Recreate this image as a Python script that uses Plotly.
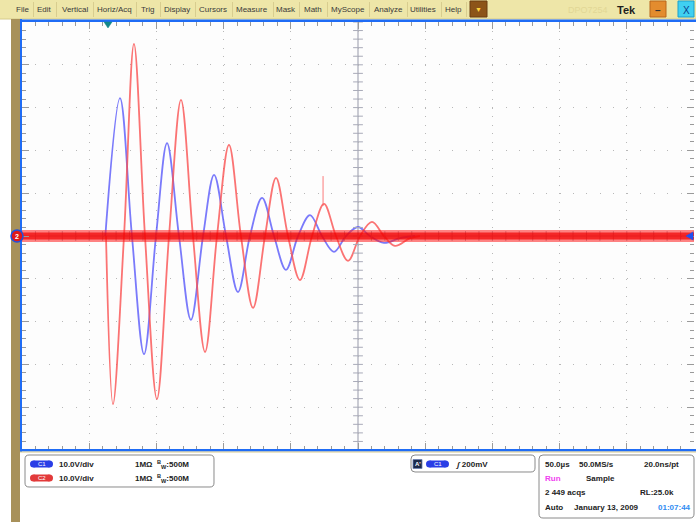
import numpy as np
import plotly.graph_objects as go

W, H = 696, 522

# Horizontal: 10 div x 50 us (record time in us), vertical: 10 div x 10 V
t_range = [0, 500]
v_range = [-50, 50]
trigger_t = 64.0

# Channel 1 (blue) ringing: peaks, troughs and zero crossings
c1_t = [62.0, 72.9, 81.8, 90.8, 99.7, 107.9, 116.8, 125.7, 134.7, 142.9, 151.8, 160.7, 169.6,
        178.6, 187.5, 196.4, 205.4, 214.3, 223.2, 232.1, 241.1, 250.0, 258.9, 269.3, 281.3, 292.4]
c1_v = [0, 32.2, 0, -27.6, 0, 21.7, 0, -19.6, 0, 14.3, 0, -13.1, 0,
        8.9, 0, -7.9, 0, 4.9, 0, -3.7, 0, 2.1, 0, -1.6, -0.5, 0]

# Channel 2 (red) ringing
c2_t = [62.5, 67.7, 75.9, 83.3, 91.5, 100.4, 109.4, 118.3, 127.2, 136.2, 145.1, 154.0, 162.9, 171.9,
        180.8, 189.0, 197.9, 206.8, 215.8, 224.7, 233.6, 242.6, 251.5, 260.4, 269.3, 277.5, 288.7, 296.1]
c2_v = [0, -39.3, 0, 44.9, 0, -38.1, 0, 31.8, 0, -27.1, 0, 21.3, 0, -16.8,
        0, 13.6, 0, -10.3, 0, 7.5, 0, -5.8, 0, 3.3, 0, -2.3, -0.5, 0]

# Glitch on channel 2
c2_spike_t = [224.0, 224.0]
c2_spike_v = [7.0, 14.0]

# Persisted flat acquisitions (noise band on the reference level)
base_t = [0, 500]
base_v = [0, 0]

menu_items = ["File", "Edit", "Vertical", "Horiz/Acq", "Trig", "Display", "Cursors",
              "Measure", "Mask", "Math", "MyScope", "Analyze", "Utilities", "Help"]
menu_x = [22, 44, 75, 114, 147, 177, 213, 252, 286, 313, 348, 388, 423, 453]
menu_sep = [33, 56, 93, 136, 160, 195, 232, 273, 299, 327, 369, 407, 441, 466]

FONT = "Liberation Sans, Arial, sans-serif"


def px(x):
    return x / W


def py(y):
    return 1 - y / H


shapes = []
annotations = []


def rect(x0, y0, x1, y1, fill, line_color=None, lw=0, layer="above"):
    shapes.append(dict(type="rect", xref="paper", yref="paper",
                       x0=px(x0), x1=px(x1), y0=py(y1), y1=py(y0),
                       fillcolor=fill, line=dict(color=line_color or fill, width=lw),
                       layer=layer))


def circle(x0, y0, x1, y1, fill, line_color=None, lw=0):
    shapes.append(dict(type="circle", xref="paper", yref="paper",
                       x0=px(x0), x1=px(x1), y0=py(y1), y1=py(y0),
                       fillcolor=fill, line=dict(color=line_color or fill, width=lw),
                       layer="above"))


def rrect(x0, y0, x1, y1, r, line_color="#8a8a8a", lw=1, fill="rgba(0,0,0,0)"):
    def p(x, y):
        return f"{px(x):.5f},{py(y):.5f}"
    path = (f"M {p(x0 + r, y0)} L {p(x1 - r, y0)} Q {p(x1, y0)} {p(x1, y0 + r)} "
            f"L {p(x1, y1 - r)} Q {p(x1, y1)} {p(x1 - r, y1)} L {p(x0 + r, y1)} "
            f"Q {p(x0, y1)} {p(x0, y1 - r)} L {p(x0, y0 + r)} Q {p(x0, y0)} {p(x0 + r, y0)} Z")
    shapes.append(dict(type="path", xref="paper", yref="paper", path=path,
                       fillcolor=fill, line=dict(color=line_color, width=lw), layer="above"))


def text(x, y, s, size=8, color="#222222", bold=False, anchor="left", family=FONT):
    if bold:
        s = f"<b>{s}</b>"
    annotations.append(dict(x=px(x), y=py(y), xref="paper", yref="paper", text=s,
                            showarrow=False, xanchor=anchor, yanchor="middle",
                            font=dict(family=family, size=size, color=color)))


def pill(x0, x1, yc, h, fill, label):
    r = h / 2
    rect(x0 + r, yc - r, x1 - r, yc + r, fill)
    circle(x0, yc - r, x0 + h, yc + r, fill)
    circle(x1 - h, yc - r, x1, yc + r, fill)
    text((x0 + x1) / 2, yc, label, size=6, color="white", anchor="center")


# ---- Menu bar ----
rect(0, 0, W, 19, "#eee6a8")
rect(0, 18.5, W, 19.5, "#d6cc8c")
for sx in menu_sep:
    rect(sx, 2, sx + 0.8, 17, "#d2c78a")
for label, mx in zip(menu_items, menu_x):
    text(mx, 9.5, label, size=8, color="#3a3a3a", anchor="center")
rect(470, 1, 487, 17, "#8c5418", "#6a3c10", 1)
text(478.5, 9.5, "▼", size=7, color="#ffd23c", anchor="center")
text(588, 10, "DPO7254", size=9, color="#e2d796", anchor="center")
text(626, 9.5, "Tek", size=11, color="#1e1e1e", bold=True, anchor="center")
rect(650, 1, 666, 17, "#e38c2e", "#b8671c", 1)
text(658, 10, "–", size=10, color="#333333", bold=True, anchor="center")
rect(678, 1, 694, 17, "#3fd0f2", "#1e9fc9", 1)
text(686, 10, "X", size=10, color="#0a3d8c", anchor="center")

# ---- Left strip and display frame ----
rect(11, 19, 20, H, "#a8915a")
rect(20, 19, 22, 452, "#1f6cf5")
rect(20, 19.5, W, 22, "#1f6cf5")
rect(20, 449, W, 451.5, "#1f6cf5")
rect(20, 451.5, W, 452.5, "#d9cb8e")

# center cross of the graticule
shapes.append(dict(type="line", xref="x", yref="paper", x0=250, x1=250,
                   y0=py(450), y1=py(22), line=dict(color="#a8aab8", width=1.2), layer="below"))
shapes.append(dict(type="line", xref="paper", yref="y", x0=px(22), x1=px(694),
                   y0=0, y1=0, line=dict(color="#a8aab8", width=1.2), layer="below"))

# trigger position marker
shapes.append(dict(type="path", xref="paper", yref="paper",
                   path=f"M {px(104):.5f},{py(22):.5f} L {px(112):.5f},{py(22):.5f} "
                        f"L {px(108):.5f},{py(28):.5f} Z",
                   fillcolor="#12868a", line=dict(color="#12868a", width=0.5), layer="above"))

# channel reference markers
circle(11, 230, 23, 242, "#e01818", "#1f4fe0", 1.5)
text(17, 236.5, "2", size=7, color="white", bold=True, anchor="center")
shapes.append(dict(type="path", xref="paper", yref="paper",
                   path=f"M {px(686):.5f},{py(236):.5f} L {px(693):.5f},{py(232):.5f} "
                        f"L {px(693):.5f},{py(240):.5f} Z",
                   fillcolor="#2050f0", line=dict(color="#2050f0", width=0.5), layer="above"))

# ---- Bottom info panels ----
rrect(25, 455, 214, 487, 4)
pill(30, 53, 464, 7, "#2a3ee6", "C1")
text(57, 464, "10.0V/div", bold=True)
text(133, 464, "1MΩ  <sup>B</sup><sub>W</sub>:500M", bold=True)
pill(30, 53, 478, 7, "#e23a3a", "C2")
text(57, 478, "10.0V/div", bold=True)
text(133, 478, "1MΩ  <sup>B</sup><sub>W</sub>:500M", bold=True)

rrect(411, 455, 535, 472, 4)
rect(413, 459.5, 422, 468.5, "#1c2a4a", "#6a7fb0", 0.8)
text(417.5, 464, "A'", size=6, color="white", bold=True, anchor="center")
pill(426, 449, 464, 7, "#2a3ee6", "C1")
text(453, 464, "<i>ʃ</i> 200mV", bold=True)

rrect(539, 455, 694, 518, 4)
text(543, 464, "50.0µs", bold=True)
text(577, 464, "50.0MS/s", bold=True)
text(642, 464, "20.0ns/pt", bold=True)
text(543, 478, "Run", bold=True, color="#f040f0")
text(584, 478, "Sample", bold=True)
text(543, 492, "2 449 acqs", bold=True)
text(638, 492, "RL:25.0k", bold=True)
text(543, 507, "Auto", bold=True)
text(572, 507, "January 13, 2009", bold=True)
text(656, 507, "01:07:44", bold=True, color="#2f8cf2")

# ---- Waveforms ----
fig = go.Figure()
fig.add_trace(go.Scatter(x=c1_t, y=c1_v, mode="lines", line_shape="spline",
                         line=dict(color="rgba(85,85,250,0.78)", width=1.8),
                         hoverinfo="skip", showlegend=False))
fig.add_trace(go.Scatter(x=c2_t, y=c2_v, mode="lines", line_shape="spline",
                         line=dict(color="rgba(250,80,80,0.8)", width=1.8),
                         hoverinfo="skip", showlegend=False))
fig.add_trace(go.Scatter(x=c2_spike_t, y=c2_spike_v, mode="lines",
                         line=dict(color="rgba(250,90,90,0.8)", width=1),
                         hoverinfo="skip", showlegend=False))

# minor division ticks along the center cross
vt = np.arange(v_range[0], v_range[1] + 0.1, 2)
fig.add_trace(go.Scatter(x=np.full(vt.size, 250.0), y=vt, mode="markers",
                         marker=dict(symbol="line-ew", size=7,
                                     line=dict(color="#a8aab8", width=1)),
                         hoverinfo="skip", showlegend=False))
ht = np.arange(t_range[0], t_range[1] + 0.1, 10)
fig.add_trace(go.Scatter(x=ht, y=np.zeros(ht.size), mode="markers",
                         marker=dict(symbol="line-ns", size=7,
                                     line=dict(color="#a8aab8", width=1)),
                         hoverinfo="skip", showlegend=False))

# noise band of the flat acquisitions
fig.add_trace(go.Scatter(x=base_t, y=base_v, mode="lines",
                         line=dict(color="rgba(255,30,30,0.55)", width=12),
                         hoverinfo="skip", showlegend=False))
fig.add_trace(go.Scatter(x=base_t, y=base_v, mode="lines",
                         line=dict(color="rgba(240,0,0,0.7)", width=7),
                         hoverinfo="skip", showlegend=False))

axis_common = dict(showline=True, linecolor="rgba(0,0,0,0)", mirror="ticks",
                   ticks="inside", ticklen=7, tickwidth=1, tickcolor="#9a9a9a",
                   showticklabels=False, zeroline=False, showgrid=True,
                   gridcolor="#b8b8b8", gridwidth=1, fixedrange=True)

fig.update_layout(
    width=W, height=H,
    margin=dict(l=0, r=0, t=0, b=0),
    paper_bgcolor="white", plot_bgcolor="#fdfdfd",
    showlegend=False,
    xaxis=dict(domain=[px(22), px(694)], range=t_range, tick0=0, dtick=50,
               griddash="1px,7.56px",
               minor=dict(dtick=10, tick0=0, ticks="inside", ticklen=4,
                          tickcolor="#9a9a9a", showgrid=False),
               **axis_common),
    yaxis=dict(domain=[py(450), py(22)], range=v_range, tick0=-50, dtick=10,
               griddash="1px,12.44px",
               minor=dict(dtick=2, tick0=-50, ticks="inside", ticklen=4,
                          tickcolor="#9a9a9a", showgrid=False),
               **axis_common),
    shapes=shapes,
    annotations=annotations,
)

fig.write_html("out.html")
